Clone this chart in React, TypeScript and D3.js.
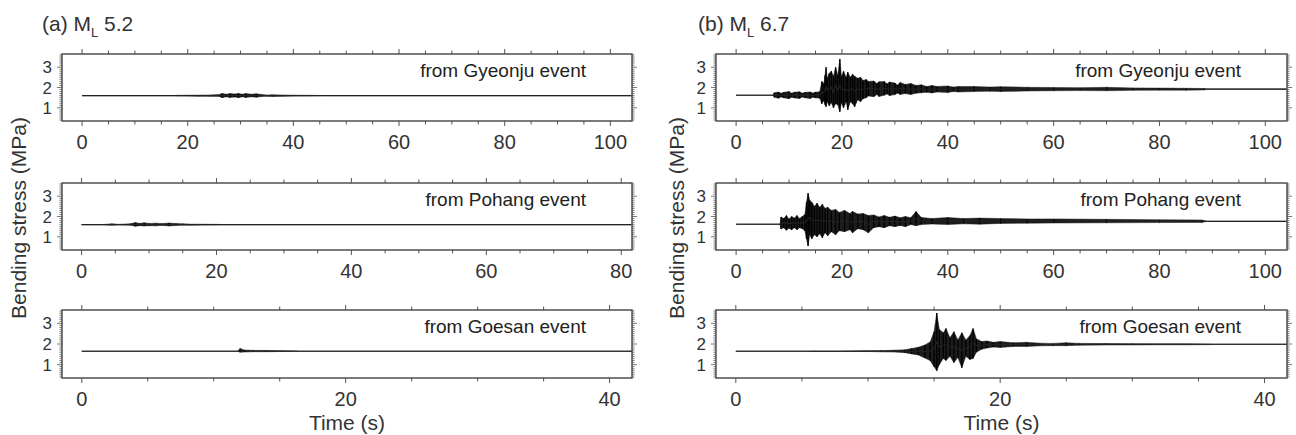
import React from 'react';
import * as d3 from 'd3';

type Pt = [number, number, number]; // time (s), lower, upper (MPa)

// tick labels
const xTicks100 = [0, 20, 40, 60, 80, 100];
const xTicks80 = [0, 20, 40, 60, 80];
const xTicks40 = [0, 20, 40];
const yTickLabels = [1, 2, 3];

// (a) ML 5.2 traces (envelope)
const gyeonjuA: Pt[] = [
  [0, 1.6, 1.6], [17.5, 1.6, 1.6], [18, 1.585, 1.615], [20, 1.58, 1.62], [22, 1.575, 1.625],
  [24, 1.57, 1.63], [26, 1.56, 1.65], [26.5, 1.5, 1.71], [27.3, 1.54, 1.67], [28, 1.51, 1.7],
  [29, 1.53, 1.68], [29.6, 1.5, 1.71], [30.3, 1.54, 1.67], [31, 1.51, 1.7], [32, 1.54, 1.67],
  [33, 1.52, 1.69], [34, 1.56, 1.65], [35, 1.57, 1.63], [36, 1.56, 1.64], [38, 1.57, 1.63],
  [40, 1.58, 1.62], [43, 1.585, 1.615], [46, 1.6, 1.6], [104, 1.6, 1.6],
];
const pohangA: Pt[] = [
  [0, 1.6, 1.6], [3, 1.6, 1.6], [3.5, 1.585, 1.615], [4.5, 1.57, 1.64], [5.5, 1.585, 1.615],
  [7.2, 1.57, 1.64], [8, 1.52, 1.7], [8.6, 1.55, 1.66], [9.3, 1.53, 1.69], [10, 1.55, 1.66],
  [11, 1.54, 1.67], [12, 1.56, 1.65], [13, 1.53, 1.68], [14, 1.56, 1.65], [15, 1.57, 1.64],
  [16, 1.575, 1.625], [18, 1.58, 1.62], [20.5, 1.59, 1.61], [21, 1.6, 1.6], [81.5, 1.6, 1.6],
];
const goesanA: Pt[] = [
  [0, 1.65, 1.65], [11.8, 1.65, 1.65], [12.0, 1.6, 1.78], [12.3, 1.61, 1.71], [13, 1.625, 1.69],
  [14, 1.625, 1.685], [15, 1.635, 1.675], [16, 1.645, 1.66], [16.5, 1.65, 1.65], [41.7, 1.65, 1.65],
];

// (b) ML 6.7 traces
const gyeonjuB: Pt[] = [
  [0, 1.62, 1.62], [7.0, 1.62, 1.62], [7.2, 1.52, 1.74], [8, 1.47, 1.78], [8.5, 1.53, 1.72],
  [9, 1.49, 1.76], [10, 1.45, 1.8], [10.5, 1.52, 1.72], [11, 1.48, 1.77], [12, 1.46, 1.79],
  [12.5, 1.53, 1.72], [13, 1.49, 1.76], [14, 1.46, 1.78], [14.5, 1.52, 1.73], [15, 1.49, 1.77],
  [15.8, 1.47, 1.79], [16.2, 1.2, 2.3], [16.6, 1.35, 2.2], [16.8, 1.15, 2.6], [17.0, 1.05, 3.0],
  [17.2, 1.3, 2.45], [17.6, 1.1, 2.7], [18.0, 1.25, 2.8], [18.4, 1.0, 2.55], [18.8, 1.2, 3.0],
  [19.2, 1.15, 2.6], [19.6, 0.8, 3.4], [19.9, 1.25, 2.55], [20.3, 1.0, 2.8], [20.8, 1.3, 2.5],
  [21.1, 0.9, 2.75], [21.6, 1.3, 2.5], [22.0, 1.2, 2.65], [22.4, 1.05, 2.55], [23, 1.4, 2.45],
  [23.5, 1.3, 2.5], [24, 1.45, 2.35], [24.6, 1.5, 2.4], [25, 1.58, 2.3], [26, 1.55, 2.32],
  [26.6, 1.65, 2.2], [27, 1.56, 2.28], [28, 1.62, 2.3], [28.5, 1.68, 2.18], [29, 1.6, 2.27],
  [30, 1.65, 2.22], [30.5, 1.72, 2.12], [31, 1.66, 2.25], [32, 1.7, 2.15], [33, 1.65, 2.2],
  [34, 1.72, 2.1], [35, 1.74, 2.13], [36, 1.76, 2.05], [37, 1.73, 2.1], [38, 1.78, 2.05],
  [40, 1.75, 2.08], [41, 1.8, 2.02], [42, 1.78, 2.05], [45, 1.8, 2.05], [48, 1.82, 2.02],
  [50, 1.8, 2.04], [55, 1.83, 2.01], [60, 1.84, 2.0], [65, 1.85, 1.99], [70, 1.84, 2.01],
  [75, 1.86, 1.98], [80, 1.87, 1.97], [85, 1.87, 1.96], [88.5, 1.88, 1.95], [89, 1.92, 1.92],
  [104, 1.92, 1.92],
];
const pohangB: Pt[] = [
  [0, 1.62, 1.62], [8.3, 1.62, 1.62], [8.5, 1.38, 1.98], [9, 1.45, 1.9], [9.5, 1.32, 2.05],
  [10, 1.42, 1.88], [10.5, 1.35, 2.0], [11, 1.45, 1.92], [11.5, 1.35, 2.05], [12, 1.45, 1.9],
  [12.5, 1.4, 2.0], [13.0, 1.3, 2.1], [13.3, 0.9, 2.7], [13.6, 0.55, 3.15], [13.9, 1.1, 2.8],
  [14.3, 0.9, 2.7], [14.8, 1.1, 2.5], [15.3, 1.0, 2.65], [15.8, 1.15, 2.45], [16.3, 0.95, 2.6],
  [16.8, 1.2, 2.4], [17.3, 1.05, 2.45], [18, 1.25, 2.3], [18.8, 1.1, 2.35], [19.5, 1.3, 2.2],
  [20.5, 1.25, 2.3], [21.5, 1.35, 2.15], [22, 1.2, 2.25], [23, 1.4, 2.12], [24, 1.35, 2.15],
  [25, 1.2, 2.05], [26, 1.45, 2.08], [27, 1.5, 1.98], [28, 1.45, 2.05], [29, 1.55, 1.96],
  [30, 1.5, 2.02], [31, 1.56, 1.94], [32, 1.5, 2.0], [33, 1.6, 1.94], [34, 1.55, 2.25],
  [35, 1.6, 1.95], [37, 1.63, 1.9], [40, 1.6, 1.95], [43, 1.64, 1.9], [46, 1.62, 1.92],
  [50, 1.66, 1.9], [55, 1.67, 1.88], [60, 1.68, 1.88], [70, 1.69, 1.86], [80, 1.7, 1.84],
  [88, 1.71, 1.83], [89, 1.76, 1.76], [104, 1.76, 1.76],
];
const goesanB: Pt[] = [
  [0, 1.65, 1.65], [5.5, 1.65, 1.65], [5.6, 1.635, 1.665], [8, 1.635, 1.665], [10, 1.635, 1.67],
  [11, 1.62, 1.68], [12, 1.61, 1.7], [12.8, 1.58, 1.72], [13.3, 1.52, 1.78], [13.8, 1.47, 1.84],
  [14.3, 1.32, 1.95], [14.7, 1.2, 2.1], [15.0, 0.9, 2.6], [15.2, 0.7, 3.5], [15.4, 1.0, 2.7],
  [15.7, 1.3, 2.55], [15.9, 1.2, 2.75], [16.2, 1.4, 2.3], [16.5, 1.1, 2.6], [16.8, 1.35, 2.2],
  [17.1, 0.85, 2.55], [17.4, 1.4, 2.2], [17.7, 1.25, 2.4], [17.95, 1.3, 2.75], [18.2, 1.6, 2.25],
  [18.6, 1.75, 2.12], [19, 1.8, 2.15], [19.5, 1.85, 2.08], [20, 1.83, 2.12], [21, 1.88, 2.06],
  [22, 1.88, 2.08], [23, 1.91, 2.04], [24, 1.92, 2.03], [25, 1.92, 2.06], [26, 1.94, 2.03],
  [28, 1.95, 2.02], [30, 1.955, 2.015], [32, 1.96, 2.01], [34, 1.96, 2.01], [36, 1.97, 2.0],
  [36.5, 1.985, 1.985], [41.7, 1.985, 1.985],
];

const FONT = "'Liberation Sans', Arial, Helvetica, sans-serif";
const COLS: [number, number][] = [[62, 632], [716, 1287]];
const ROWS: [number, number][] = [[54, 121], [183, 250], [310, 378]];
const Y_DOMAIN: [number, number] = [0.35, 3.65];

interface PanelDef {
  col: number;
  row: number;
  domain: [number, number];
  ticks: number[];
  data: Pt[];
  label: string;
}

const panels: PanelDef[] = [
  { col: 0, row: 0, domain: [-3.8, 104.1], ticks: xTicks100, data: gyeonjuA, label: 'from Gyeonju event' },
  { col: 0, row: 1, domain: [-2.9, 81.6], ticks: xTicks80, data: pohangA, label: 'from Pohang event' },
  { col: 0, row: 2, domain: [-1.5, 41.7], ticks: xTicks40, data: goesanA, label: 'from Goesan event' },
  { col: 1, row: 0, domain: [-3.8, 104.1], ticks: xTicks100, data: gyeonjuB, label: 'from Gyeonju event' },
  { col: 1, row: 1, domain: [-3.8, 104.1], ticks: xTicks100, data: pohangB, label: 'from Pohang event' },
  { col: 1, row: 2, domain: [-1.5, 41.7], ticks: xTicks40, data: goesanB, label: 'from Goesan event' },
];

function Panel({ p }: { p: PanelDef }) {
  const [x0, x1] = COLS[p.col];
  const [y0, y1] = ROWS[p.row];
  const x = d3.scaleLinear().domain(p.domain).range([x0, x1]);
  const y = d3.scaleLinear().domain(Y_DOMAIN).range([y1, y0]);
  const area = d3.area<Pt>().x(d => x(d[0])).y0(d => y(d[1])).y1(d => y(d[2]));
  const mid = d3.line<Pt>().x(d => x(d[0])).y(d => y((d[1] + d[2]) / 2));
  const maxT = p.ticks[p.ticks.length - 1];
  const minorX = d3.range(0, maxT + 0.001, 5).filter(t => t <= p.domain[1]);
  const minorY = d3.range(4, 37).map(v => v / 10);
  const axisColor = '#555';
  return (
    <g>
      {minorX.map(t => {
        const major = t % 20 === 0;
        const len = major ? 5 : 3.5;
        return (
          <g key={'xt' + t}>
            <line x1={x(t)} x2={x(t)} y1={y0} y2={y0 - len} stroke={axisColor} strokeWidth={1} />
            <line x1={x(t)} x2={x(t)} y1={y1} y2={y1 + len} stroke={axisColor} strokeWidth={1} />
          </g>
        );
      })}
      {minorY.map(v => {
        const major = Math.abs(v - Math.round(v)) < 1e-6;
        const len = major ? 5 : 2.5;
        return (
          <g key={'yt' + v}>
            <line x1={x0} x2={x0 - len} y1={y(v)} y2={y(v)} stroke={axisColor} strokeWidth={0.8} />
            <line x1={x1} x2={x1 + len} y1={y(v)} y2={y(v)} stroke={axisColor} strokeWidth={0.8} />
          </g>
        );
      })}
      {/* trace: min-max envelope, sample strokes and centre line */}
      <path d={area(p.data) || ''} fill="#1c1c1c" stroke="#1c1c1c" strokeWidth={0.5} />
      {p.data.map((d, i) =>
        d[2] - d[1] > 0.05 ? (
          <line key={'s' + i} x1={x(d[0])} x2={x(d[0])} y1={y(d[1])} y2={y(d[2])} stroke="#000" strokeWidth={1.3} />
        ) : null
      )}
      <path d={mid(p.data) || ''} fill="none" stroke="#222" strokeWidth={1.1} />
      <rect x={x0} y={y0} width={x1 - x0} height={y1 - y0} fill="none" stroke="#444" strokeWidth={1.4} />
      {p.ticks.map(t => (
        <text key={'xl' + t} x={x(t)} y={y1 + 28} textAnchor="middle" fontSize={20} fill="#333" fontFamily={FONT}>
          {t}
        </text>
      ))}
      {yTickLabels.map(v => (
        <text key={'yl' + v} x={x0 - 10} y={y(v) + 6} textAnchor="end" fontSize={17} fill="#333" fontFamily={FONT}>
          {v}
        </text>
      ))}
      <text x={x1 - 46} y={y0 + 23} textAnchor="end" fontSize={19} fill="#222" fontFamily={FONT}>
        {p.label}
      </text>
    </g>
  );
}

function Title({ x, y, tag, mag }: { x: number; y: number; tag: string; mag: string }) {
  return (
    <text x={x} y={y} fontSize={21} fill="#333" fontFamily={FONT}>
      {tag} M
      <tspan fontSize={13} dy={6}>L</tspan>
      <tspan dy={-6}>{' ' + mag}</tspan>
    </text>
  );
}

export default function App() {
  return (
    <svg width={1296} height={435} style={{ position: 'absolute', left: 0, top: 0, background: '#fff' }}>
      <rect x={0} y={0} width={1296} height={435} fill="#fff" />
      <Title x={42} y={31} tag="(a)" mag="5.2" />
      <Title x={698} y={31} tag="(b)" mag="6.7" />
      {panels.map((p, i) => (
        <Panel key={i} p={p} />
      ))}
      {[19, 677].map(cx => (
        <text key={cx} transform={`translate(${cx + 7},218) rotate(-90)`} textAnchor="middle" fontSize={21} fill="#333" fontFamily={FONT}>
          Bending stress (MPa)
        </text>
      ))}
      {COLS.map(([a, b], i) => (
        <text key={'tl' + i} x={(a + b) / 2} y={430} textAnchor="middle" fontSize={21} fill="#333" fontFamily={FONT}>
          Time (s)
        </text>
      ))}
    </svg>
  );
}
